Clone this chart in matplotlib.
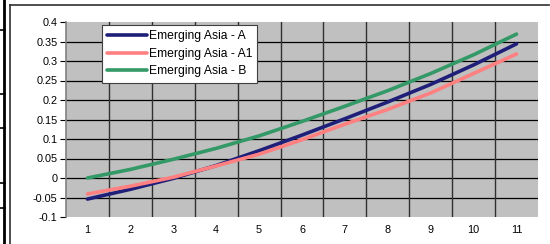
import matplotlib
matplotlib.use('Agg')
import matplotlib.pyplot as plt
from matplotlib.lines import Line2D

plt.rcParams['font.family'] = ['Liberation Sans', 'DejaVu Sans']

periods = list(range(1, 12))
asia_a  = [-0.054, -0.029, -0.001, 0.032, 0.070, 0.110, 0.152, 0.195, 0.240, 0.290, 0.344]
asia_a1 = [-0.041, -0.021, 0.002, 0.031, 0.061, 0.098, 0.138, 0.176, 0.218, 0.268, 0.318]
asia_b  = [0.000, 0.022, 0.048, 0.076, 0.108, 0.145, 0.184, 0.224, 0.268, 0.316, 0.369]
labels  = ['Emerging Asia - A', 'Emerging Asia - A1', 'Emerging Asia - B']
colors  = ['#1F1F7A', '#FF8080', '#339966']
yticks  = [-0.1, -0.05, 0, 0.05, 0.1, 0.15, 0.2, 0.25, 0.3, 0.35, 0.4]
ytick_labels = ['-0.1', '-0.05', '0', '0.05', '0.1', '0.15', '0.2', '0.25', '0.3', '0.35', '0.4']

fig = plt.figure(figsize=(5.5, 2.44), dpi=100)
ax = fig.add_axes([66/550, 1 - 217/244, (538 - 66)/550, (217 - 22)/244])
ax.set_facecolor('#C0C0C0')

# gridlines: black horizontals, dark verticals at category boundaries
for v in yticks[1:-1]:
    ax.axhline(v, color='black', lw=0.9, zorder=1)
for b in range(1, 11):
    ax.axvline(b + 0.5, color='#303030', lw=1.0, zorder=1)

for series, lab, c in zip([asia_a, asia_a1, asia_b], labels, colors):
    ax.plot(periods, series, color=c, lw=2.6, label=lab, zorder=3,
            solid_capstyle='round', solid_joinstyle='round')

ax.set_xlim(0.5, 11.5)
ax.set_ylim(-0.1, 0.4)
ax.set_xticks(periods)
ax.set_xticklabels([str(p) for p in periods])
ax.set_yticks(yticks)
ax.set_yticklabels(ytick_labels)
ax.tick_params(axis='x', length=0, pad=6, labelsize=7.8)
ax.tick_params(axis='y', length=4, width=0.8, pad=2, labelsize=7.8, direction='out')
for s in ['top', 'right', 'bottom']:
    ax.spines[s].set_visible(False)
ax.spines['left'].set_color('#808080')
ax.spines['left'].set_linewidth(1.2)

leg = ax.legend(loc='upper left', bbox_to_anchor=((102 - 66)/472, 1 - (25 - 22)/195),
                frameon=True, fancybox=False, fontsize=8.7, handlelength=3.3,
                handletextpad=0.1, borderpad=0.45, labelspacing=0.45,
                borderaxespad=0)
leg.get_frame().set_edgecolor('#404040')
leg.get_frame().set_linewidth(0.8)
leg.get_frame().set_facecolor('white')
leg.get_frame().set_alpha(1)

# outer page frame bits around the chart
W, H = 550, 244
fig.add_artist(Line2D([9.5/W, 9.5/W], [0, 1 - 5/H], color='#303030', lw=1.2))
fig.add_artist(Line2D([9.5/W, 549/W], [1 - 5/H, 1 - 5/H], color='#303030', lw=1.2))
fig.add_artist(Line2D([3.5/W, 3.5/W], [0, 1], color='black', lw=2.0))
for y in [30, 94, 128, 183, 208]:
    fig.add_artist(Line2D([0, 5/W], [1 - y/H, 1 - y/H], color='black', lw=1.2))

fig.savefig('out.png', dpi=100)
